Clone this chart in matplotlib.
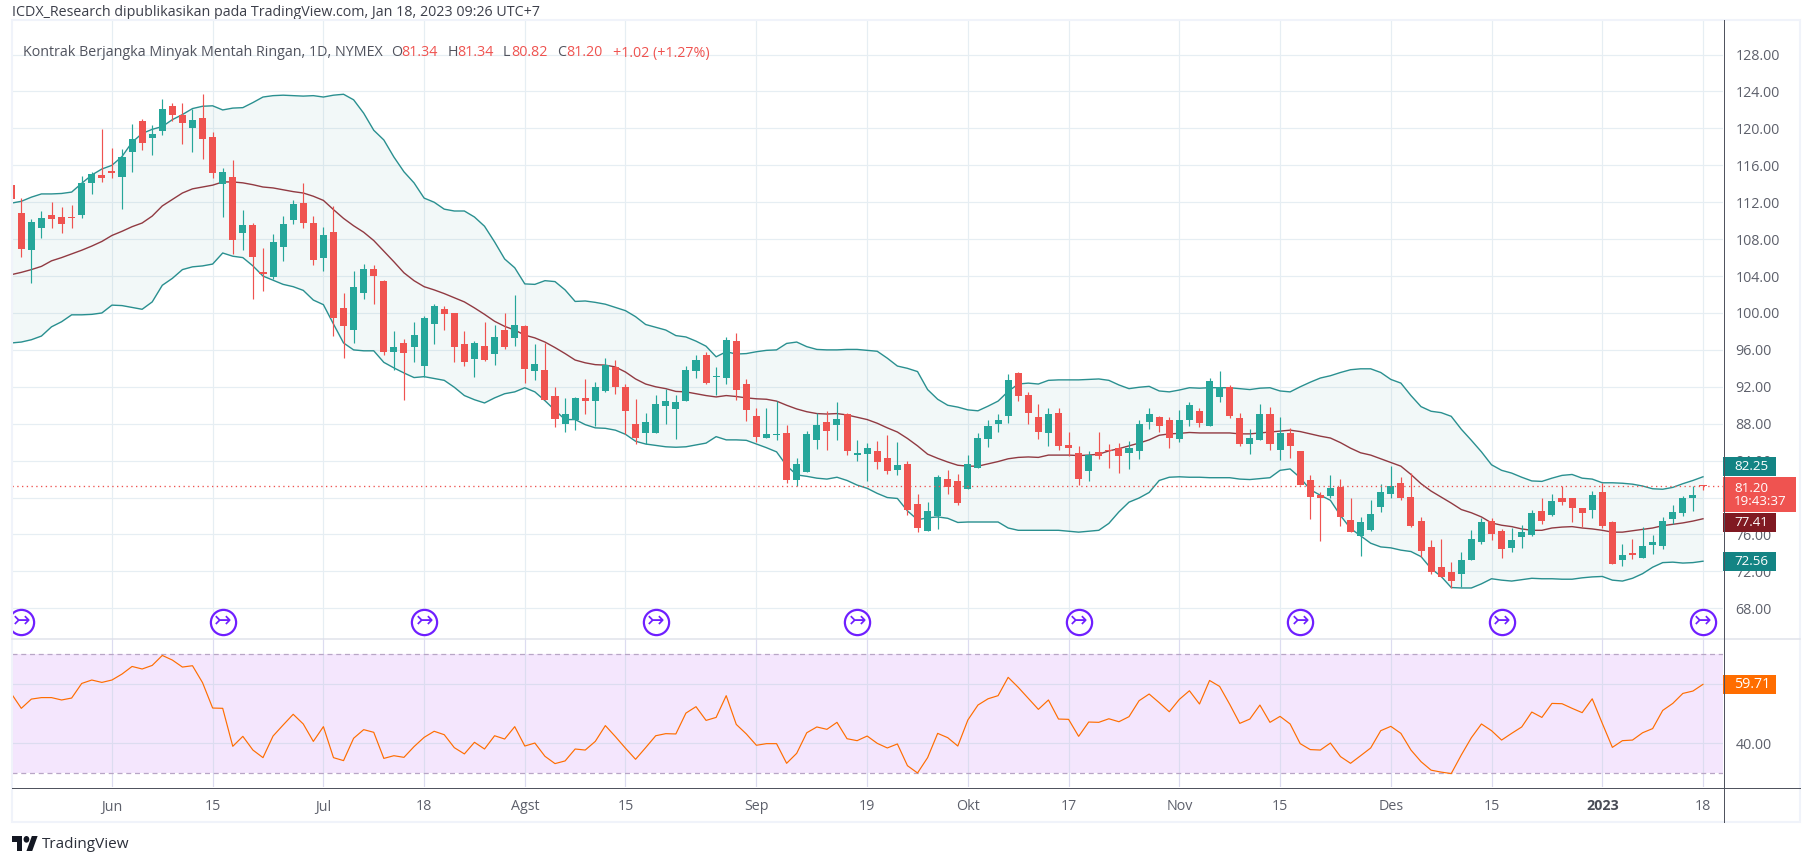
#!/usr/bin/env python
"""Light crude oil daily candles with Bollinger bands and RSI."""
import matplotlib
matplotlib.use('Agg')
import matplotlib.pyplot as plt
from matplotlib.lines import Line2D
from matplotlib.patches import Circle, Polygon, Rectangle

W, H = 1813, 866

# one entry per daily bar
opens = [
    113.85, 110.8, 106.8, 109.2, 110.6, 110.4, 110.4, 110.6, 114.05, 114.95,
    115.35, 114.7, 117.4, 120.8, 118.95, 119.7, 122.4, 121.45, 120.05, 121.1,
    119.05, 113.95, 114.7, 108.65, 109.5, 104.4, 103.9, 107.15, 110.05, 111.9,
    109.8, 106, 108.8, 100.5, 98.2, 102.2, 104.8, 103.5, 95.8, 96.7,
    96.35, 94.3, 98.85, 100.4, 100.05, 96.6, 95.05, 96.45, 95.6, 98.2,
    97.25, 98.55, 93.75, 93.85, 91.05, 88, 88.45, 90.8, 90.5, 91.5,
    94.2, 92, 88, 87, 87, 89.95, 89.6, 90.5, 93.75, 95.4,
    93.05, 92.9, 97, 92.35, 88.85, 86.45, 86.8, 87, 81.9, 82.8,
    86.25, 88.2, 87.9, 89, 84.65, 84.75, 85.05, 84.3, 82.95, 83.6,
    79.3, 76.35, 78, 82, 81.75, 80.9, 83.15, 86.3, 87.95, 88.8,
    93.45, 91.15, 88.7, 86.95, 89.2, 85.65, 84.8, 82.85, 84.9, 85.1,
    85.35, 84.8, 85, 88.15, 88.7, 88.35, 86.3, 88.45, 89.35, 87.8,
    90.85, 91.95, 88.6, 85.75, 86.2, 89, 85.1, 86.95, 85, 81.9,
    80.25, 80.15, 81.1, 77.55, 75.8, 76.45, 78.95, 80.35, 81.55, 80.05,
    77.45, 74.65, 72.45, 71.95, 71.7, 73.2, 75.15, 77.45, 76.35, 74.5,
    75.7, 75.95, 78.5, 78.1, 79.95, 79.95, 78.85, 78.65, 80.6, 77.35,
    73.2, 74, 73.45, 74.85, 74.75, 77.65, 78.3, 80, 81.34,
]
highs = [
    113.85, 112.45, 110.15, 111.05, 112.05, 111.5, 111.7, 114.8, 115.25, 119.9,
    117.85, 117.75, 120.45, 121, 120.35, 123.15, 122.75, 122.75, 122.1, 123.7,
    119.6, 115.7, 116.55, 111.15, 109.75, 107.05, 108.55, 110.5, 112.2, 114.05,
    110.55, 109.35, 111.55, 102.2, 104.6, 105.35, 105.15, 103.6, 98.1, 97.15,
    99.05, 99.7, 101, 100.8, 100.05, 98, 97, 99.05, 98.65, 99.95,
    102, 98.75, 96.6, 96.8, 92, 90.8, 90.9, 92.8, 92.55, 95.15,
    94.95, 92.25, 90.7, 89.2, 91.15, 91.8, 91.15, 94.3, 95.5, 95.8,
    94.1, 97.45, 97.8, 92.8, 89.75, 89.75, 90.5, 87.9, 84.3, 87.25,
    89.2, 89.4, 90.3, 89.2, 86.25, 85.9, 86.15, 86.8, 86, 83.95,
    80.35, 79.5, 82.4, 82.95, 82.6, 84.6, 86.95, 88.45, 89.1, 93.35,
    93.65, 91.4, 90.1, 89.65, 89.75, 87.15, 85.55, 85, 87.15, 85.85,
    85.95, 86.1, 88.45, 89.75, 88.8, 88.7, 89.45, 90.3, 89.65, 92.9,
    93.75, 92.15, 89.2, 87.4, 90.1, 89.85, 88.7, 87.5, 85, 82.4,
    80.6, 82.4, 82, 79.95, 77.9, 79.7, 81.45, 83.4, 82.2, 82.65,
    77.9, 75.4, 75.5, 73, 74.1, 76.45, 77.75, 77.75, 76.6, 76.7,
    77, 78.65, 79.95, 80.35, 81.2, 79.95, 78.85, 80.7, 81.6, 77.45,
    74.95, 75.5, 76.8, 75.95, 77.85, 79.15, 80.15, 81.2, 81.34,
]
lows = [
    112.37, 106.07, 103.25, 108.1, 109.2, 108.65, 109.2, 110.3, 112.9, 114.2,
    114.6, 111.25, 115.25, 117.65, 117.1, 119.25, 120.8, 118.3, 117.45, 116.65,
    114.6, 110.4, 106.4, 106.8, 101.5, 102.4, 103.7, 105.6, 109.65, 109.25,
    105.15, 104.6, 97.55, 95.15, 96.7, 101.55, 101, 95.4, 93.85, 90.6,
    94.65, 93.1, 96.6, 98.2, 94.65, 94.3, 93.1, 94.85, 94.4, 96.15,
    96.45, 92.45, 92.7, 90.6, 87.65, 87.15, 87.35, 89.1, 87.8, 91.4,
    91.25, 86.9, 85.8, 85.8, 87, 88, 86.35, 90.45, 92.9, 92.35,
    91.15, 92.35, 90.6, 88.3, 86.05, 86.45, 86.25, 81.55, 81.2, 82.8,
    85.3, 85.15, 86.25, 84.6, 84, 81.8, 83.1, 82.5, 82.4, 78.1,
    76.25, 76.35, 76.6, 80.35, 79.2, 80.9, 83.15, 85.45, 87.05, 88.05,
    90.5, 87.95, 86.3, 85.55, 85.2, 84.55, 81.35, 81.75, 84.15, 83.15,
    82.65, 83.05, 84.15, 87.4, 87.05, 85.35, 86, 87.7, 87.6, 87.8,
    90.4, 88.6, 85.55, 84.7, 86.2, 85.1, 84.05, 84.25, 81.35, 77.65,
    75.3, 79.95, 76.9, 76.25, 73.65, 76.35, 78.4, 79.95, 79.7, 76.8,
    73.55, 71.7, 71.4, 70.2, 70.3, 73.2, 74.95, 75.4, 73.45, 74.1,
    74.5, 75.8, 77.1, 78, 79.15, 77.35, 76.8, 77.75, 76.7, 72.8,
    72.6, 73.35, 73.45, 73.85, 74.4, 77.1, 78, 78.5, 80.82,
]
closes = [
    112.37, 106.96, 109.85, 110.3, 110.2, 109.65, 110.3, 114.05, 115.05, 114.6,
    115.15, 116.9, 118.85, 118.4, 119.4, 122.1, 121.45, 120.55, 120.9, 118.85,
    115.15, 115.25, 107.9, 109.5, 106.05, 104.2, 107.7, 109.65, 111.8, 109.7,
    105.7, 108.5, 99.5, 98.55, 102.85, 104.8, 104.05, 95.8, 96.35, 95.7,
    97.65, 99.5, 100.8, 99.85, 96.35, 94.65, 96.8, 94.95, 97.35, 96.35,
    98.75, 93.9, 94.5, 90.6, 88.55, 89.1, 90.8, 90.5, 92, 94.4,
    92, 89.4, 86.45, 88.2, 90.15, 90.5, 90.4, 93.85, 94.95, 92.45,
    93.15, 97.1, 91.6, 89.5, 86.6, 86.9, 86.9, 81.9, 83.65, 86.9,
    87.9, 87.25, 88.55, 85.05, 84.85, 85.4, 83.85, 82.9, 83.5, 78.65,
    76.7, 78.5, 82.2, 81.1, 79.4, 83.6, 86.5, 87.8, 88.45, 92.7,
    91.05, 89.2, 87.15, 89.1, 85.55, 85.35, 82, 84.6, 84.45, 85,
    84.45, 85.35, 87.95, 89.1, 87.8, 86.4, 88.35, 90, 88.05, 92.6,
    91.95, 88.8, 85.75, 86.5, 89, 85.75, 86.95, 85.55, 81.35, 80.05,
    79.95, 81, 77.85, 76.25, 77.35, 78.2, 80.6, 81.2, 79.95, 76.9,
    74.2, 71.95, 71.4, 70.95, 73.2, 75.5, 77.35, 76.05, 74.4, 75.4,
    76.25, 78.3, 77.45, 79.6, 79.5, 78.85, 78.3, 80.25, 76.9, 72.8,
    73.75, 73.75, 74.75, 75.15, 77.45, 78.4, 79.95, 80.25, 81.2,
]

bb_upper = [
    111.9, 112.1, 112.55, 112.9, 112.9, 112.95, 113.1, 114.05, 114.95, 115.6,
    116, 116.95, 118.5, 119.45, 119.9, 120.2, 120.95, 121.5, 122.15, 122.4,
    122.45, 122, 122.2, 122.25, 122.8, 123.4, 123.55, 123.6, 123.55, 123.5,
    123.55, 123.4, 123.6, 123.7, 123.1, 121.65, 119.8, 118.75, 116.9, 115.3,
    114.1, 112.45, 112, 111.25, 111.05, 111.05, 110.4, 109.4, 107.7, 105.85,
    104.9, 103.15, 103.1, 103.5, 103.4, 102.5, 101.25, 101.3, 101.15, 100.95,
    100.6, 100.25, 99.6, 98.75, 98.45, 98.15, 97.55, 97.4, 96.95, 96.4,
    95.25, 95.8, 95.55, 95.6, 95.8, 95.95, 96, 96.7, 96.85, 96.35,
    96.05, 96, 96, 96.05, 96.05, 95.95, 95.85, 95.1, 94.25, 94,
    93.65, 91.7, 90.65, 90, 89.8, 89.5, 89.4, 89.9, 90.45, 91.5,
    92.3, 92.4, 92.3, 92.7, 92.75, 92.75, 92.75, 92.8, 92.85, 92.7,
    92.2, 91.8, 91.95, 92.05, 91.55, 91.45, 91.65, 91.9, 91.85, 91.9,
    91.9, 91.9, 91.8, 91.7, 91.85, 91.9, 91.55, 91.45, 92, 92.5,
    92.95, 93.2, 93.55, 93.85, 93.95, 93.95, 93.55, 92.8, 92.4, 91.05,
    89.85, 89.35, 89.2, 88.8, 87.4, 86.2, 84.95, 83.55, 82.95, 82.65,
    82.2, 81.8, 81.75, 82.1, 82.4, 82.5, 82.1, 82, 81.6, 81.6,
    81.55, 81.45, 81.25, 80.95, 80.9, 81.1, 81.5, 81.85, 82.25,
]
bb_basis = [
    104.15, 104.4, 104.7, 105.05, 105.65, 106, 106.4, 106.8, 107.25, 107.75,
    108.4, 108.85, 109.35, 109.75, 110.5, 111.6, 112.3, 113, 113.45, 113.65,
    113.85, 114.2, 114.2, 114.1, 113.9, 113.65, 113.55, 113.35, 113.15, 113,
    112.65, 112.2, 111.2, 110.25, 109.45, 108.75, 107.85, 106.7, 105.55, 104.35,
    103.5, 102.85, 102.5, 102.1, 101.65, 101.2, 100.55, 99.85, 99.1, 98.55,
    98.15, 97.6, 97.3, 96.85, 96.25, 95.6, 94.9, 94.6, 94.4, 94.35,
    94.15, 93.6, 92.85, 92.3, 92, 91.8, 91.5, 91.45, 91.25, 91.05,
    90.9, 91.05, 90.95, 90.8, 90.7, 90.65, 90.45, 90, 89.6, 89.3,
    89.1, 89.05, 89.1, 88.95, 88.7, 88.45, 88.05, 87.55, 87.1, 86.4,
    85.6, 84.7, 84.25, 83.85, 83.5, 83.4, 83.4, 83.65, 83.9, 84.2,
    84.35, 84.4, 84.35, 84.6, 84.6, 84.6, 84.55, 84.6, 84.7, 85.05,
    85.3, 85.6, 85.9, 86.25, 86.75, 86.9, 86.95, 87.05, 87, 87,
    87, 87, 86.9, 86.9, 87, 87.1, 87.2, 87.3, 87.15, 86.9,
    86.65, 86.45, 85.95, 85.35, 84.85, 84.6, 84.2, 83.8, 83.4, 82.5,
    81.5, 80.7, 80.05, 79.4, 78.7, 78.35, 77.9, 77.25, 77, 76.85,
    76.6, 76.45, 76.45, 76.7, 76.8, 76.85, 76.7, 76.6, 76.45, 76.25,
    76.25, 76.4, 76.55, 76.7, 76.95, 77.1, 77.25, 77.45, 77.7,
]
bb_lower = [
    96.75, 96.85, 97.1, 97.5, 98.5, 99.05, 99.8, 99.8, 99.85, 100,
    100.85, 100.8, 100.6, 100.4, 101.2, 103, 103.75, 104.7, 105, 105.1,
    105.3, 106.5, 106.15, 106, 105.1, 104, 103.55, 103.1, 102.85, 102.45,
    101.4, 100.9, 98.8, 96.75, 96, 95.9, 95.9, 94.65, 94.05, 93.5,
    93, 93.1, 92.9, 92.7, 91.95, 91.05, 90.6, 90.25, 90.8, 91.25,
    91.45, 91.9, 91.45, 90.5, 89.45, 88.45, 88.45, 87.9, 87.55, 87.5,
    87.3, 86.85, 86.1, 85.8, 85.65, 85.5, 85.45, 85.5, 85.7, 85.9,
    86.6, 86.25, 86.25, 86.2, 85.8, 85.4, 84.95, 83.45, 82.45, 82.3,
    82.1, 82, 82.2, 81.85, 81.35, 81, 80.45, 80, 79.9, 78.55,
    77.6, 77.8, 77.9, 77.75, 77.3, 77.35, 77.35, 77.35, 77.35, 76.7,
    76.45, 76.45, 76.45, 76.45, 76.45, 76.35, 76.25, 76.35, 76.45, 77.2,
    78.45, 79.5, 79.95, 80.55, 81.85, 82.2, 82.25, 82.2, 82.2, 82.15,
    82.15, 82.15, 82, 81.95, 82.05, 82.15, 82.95, 83.1, 82.15, 80.85,
    80.25, 79.7, 78.05, 76.65, 75.85, 75.05, 74.65, 74.55, 74.3, 74.15,
    73.6, 72.3, 71.45, 70.25, 70.2, 70.2, 70.65, 71.2, 71.05, 70.95,
    71.1, 71.25, 71.2, 71.2, 71.15, 71.15, 71.3, 71.4, 71.45, 71.05,
    70.95, 71.25, 71.75, 72.45, 72.95, 73, 72.9, 72.95, 73.1,
]

rsi = [
    56.8, 51.8, 54.9, 55.4, 55.4, 54.6, 55.25, 60.15, 61.3, 60.5,
    61.3, 63.3, 65.85, 65, 66.2, 69.55, 68, 65.65, 66.1, 60.4,
    51.9, 51.8, 39.05, 42.4, 37.8, 35.25, 42.5, 46.2, 49.8, 46.55,
    40.7, 45.65, 35.25, 34.25, 41.75, 44.65, 43.75, 35, 35.9, 35.35,
    38.95, 42.05, 44.1, 42.95, 38.6, 36.5, 40.4, 38.15, 42.6, 41.5,
    45.65, 39.15, 40.15, 35.7, 33.25, 34.15, 38.15, 37.8, 40.7, 46,
    42.3, 38.4, 34.7, 38.6, 42.6, 43.3, 43.2, 50.2, 52.35, 47.75,
    48.75, 56.05, 46.4, 43.2, 39.4, 39.95, 39.95, 33.35, 36.7, 43.6,
    45.55, 44.75, 47.1, 41.6, 40.95, 42.5, 40.05, 38.5, 39.85,
    32.55, 30.1, 35.25, 43.4, 41.95, 39.15, 47.9, 52.9, 55, 56.05,
    62.2, 58.85, 55.15, 51.45, 54.6, 48.2, 48.1, 42.4, 47.2, 47.1,
    48.3, 47.3, 49, 54.35, 56.6, 53.7, 50.65, 54.8, 57.7, 53.25,
    61.15, 59.15, 53.15, 46.75, 48.2, 52.9, 47.1, 49.1, 46.55, 39.95,
    37.95, 37.8, 40.15, 35.6, 33.35, 35.9, 38.5, 44.3, 45.75, 43.4,
    37.8, 33.9, 31.05, 30.4, 29.9, 36.15, 41.95, 46.55, 44.3, 41.15,
    43.4, 45.55, 50.55, 48.75, 53.45, 53.35, 51.8, 50.35, 55, 46.75,
    38.7, 40.95, 41.15, 43.6, 45, 51.1, 53.45, 56.8, 57.6, 59.85,
]

date_ticks = [10, 20, 31, 41, 51, 61, 74, 85, 95, 105, 116, 126, 137, 147, 158, 168]
date_labels = ['Jun', '15', 'Jul', '18', 'Agst', '15', 'Sep', '19', 'Okt', '17',
               'Nov', '15', 'Des', '15', '2023', '18']
price_ticks = list(range(68, 129, 4))
rsi_ticks = [40, 60]
split_bars = [1, 21, 41, 64, 84, 106, 128, 148, 168]

last_price = 81.20
upper_label, basis_label, lower_label, rsi_label = '82.25', '77.41', '72.56', '59.71'
countdown = '19:43:37'

UP = '#26a69a'
DOWN = '#ef5350'
BAND = '#138484'
BASIS = '#801922'
GRID = '#e6eef3'
TEXT = '#50535e'

plt.rcParams['font.family'] = ['Open Sans', 'DejaVu Sans']


def frect(left, top, right, bottom):
    # pixel box to figure fractions
    return [left / W, 1 - bottom / H, (right - left) / W, (bottom - top) / H]


def fline(fig, x0, y0, x1, y1, color, width=1.0):
    fig.add_artist(Line2D([x0 / W, x1 / W], [1 - y0 / H, 1 - y1 / H], color=color,
                          lw=width * 0.72, transform=fig.transFigure, zorder=6))


FRAME_TOP = 20

fig = plt.figure(figsize=(W / 100, H / 100), dpi=100, facecolor='white')

ax = fig.add_axes(frect(12, FRAME_TOP, 1723, 638))
ax_rsi = fig.add_axes(frect(12, 638, 1723, 787), sharex=ax)

bars = list(range(len(closes)))
ax.set_xlim((12 - 11.23) / 10.07, (1723 - 11.23) / 10.07)
ax.set_ylim(64.78, 124 + (91.5 - FRAME_TOP) / 9.229)
ax_rsi.set_ylim(25.4, 75.4)

# bollinger bands
ax.fill_between(bars, bb_lower, bb_upper, color=BAND, alpha=0.05, lw=0, zorder=1)
ax.plot(bars, bb_upper, color=BAND, lw=1.0, alpha=0.9, zorder=2)
ax.plot(bars, bb_lower, color=BAND, lw=1.0, alpha=0.9, zorder=2)
ax.plot(bars, bb_basis, color=BASIS, lw=1.0, alpha=0.85, zorder=2)

# candles
colors = [UP if c >= o else DOWN for o, c in zip(opens, closes)]
ax.vlines(bars, lows, highs, colors=colors, lw=0.85, zorder=3)
ax.bar(bars, [max(abs(c - o), 0.12) for o, c in zip(opens, closes)],
       bottom=[min(o, c) for o, c in zip(opens, closes)],
       width=0.7, color=colors, lw=0, zorder=3)

ax.axhline(last_price, color=DOWN, lw=0.95, ls=(0, (1, 2.6)), zorder=4)

# split markers along the bottom of the price pane
split_y = 66.55
ax.scatter(split_bars, [split_y] * len(split_bars), s=330, facecolor='white',
           edgecolor='#6f1fff', lw=1.6, zorder=5)
for b in split_bars:
    ax.text(b, split_y, '\u21a3', color='#6f1fff', fontsize=15,
            family='DejaVu Sans', ha='center', va='center', zorder=6, clip_on=True)

for a in (ax, ax_rsi):
    a.grid(True, color=GRID, lw=0.85)
    a.set_axisbelow(True)
    for s in a.spines.values():
        s.set_visible(False)
    a.yaxis.tick_right()
    a.tick_params(axis='both', length=0, labelsize=10.3, labelcolor='#5d606b')
    a.tick_params(axis='y', pad=9)

ax.set_yticks(price_ticks)
ax.set_yticklabels([f'{p:.2f}' for p in price_ticks])
ax.tick_params(axis='x', labelbottom=False)

# rsi pane
ax_rsi.axhspan(30, 70, color='#f4e6fd', lw=0, zorder=0.5)
ax_rsi.axhline(70, color='#b8a6c6', lw=0.9, ls=(0, (4, 3)), zorder=1.5)
ax_rsi.axhline(30, color='#b8a6c6', lw=0.9, ls=(0, (4, 3)), zorder=1.5)
ax_rsi.plot(bars, rsi, color='#ff6d00', lw=0.85, zorder=3)
ax_rsi.set_yticks(rsi_ticks)
ax_rsi.set_yticklabels(['40.00', '60.00'])
ax_rsi.grid(True, color='#dcdcf0', lw=0.85)
ax_rsi.set_xticks(date_ticks)
ax_rsi.set_xticklabels(date_labels)
ax_rsi.tick_params(axis='x', pad=9)
for lab in ax_rsi.get_xticklabels():
    if lab.get_text() == '2023':
        lab.set_fontweight('bold')
        lab.set_color('#4a4d57')


def value_box(axis, value, text, color, height, width=53, text_color='white', size=9.6):
    # label glued to the price scale, in axes x and data y
    tr = axis.get_yaxis_transform()
    full_w = 1711
    axis.add_patch(Rectangle((1.0, value - height / 2), width / full_w, height, transform=tr,
                             facecolor=color, edgecolor='none', clip_on=False, zorder=7))
    axis.text(1 + 11 / full_w, value, text, transform=tr, color=text_color, fontsize=size,
              va='center', ha='left', zorder=8, clip_on=False)


# the boxes get pushed apart by the chart so they sit off their lines
value_box(ax, 83.38, upper_label, BAND, 2.06)
tr = ax.get_yaxis_transform()
ax.add_patch(Rectangle((1.0, 78.4), 73 / 1711, 3.8, transform=tr, facecolor=DOWN,
                       edgecolor='none', clip_on=False, zorder=7))
ax.text(1 + 11 / 1711, 80.28, f'{last_price:.2f}\n{countdown}', transform=tr, color='white',
        fontsize=9.6, va='center', linespacing=1.0, zorder=8, clip_on=False)
value_box(ax, 77.3, basis_label, BASIS, 2.06)
value_box(ax, 73.1, lower_label, BAND, 2.06)
value_box(ax_rsi, 59.71, rsi_label, '#ff6d00', 6.3, size=10.3)

# frame and pane separators
frame = '#f0f3fa'
fig.add_artist(Rectangle((12 / W, 1 - 822 / H), 1788 / W, (822 - FRAME_TOP) / H, fill=False,
                         edgecolor=frame, lw=1.5, transform=fig.transFigure, zorder=5))
fline(fig, 12, 638.5, 1800, 638.5, '#e0e3eb', 1.5)
fline(fig, 12, 787.5, 1800, 787.5, '#50535e', 1)
fline(fig, 1723.5, FRAME_TOP, 1723.5, 822, '#50535e', 1)

# header texts
fig.text(12 / W, 1 - 12 / H, 'ICDX_Research dipublikasikan pada TradingView.com, Jan 18, 2023 09:26 UTC+7',
         fontsize=10.3, color='#3c3f4a', va='center')

pieces = [
    ('Kontrak Berjangka Minyak Mentah Ringan, 1D, NYMEX', TEXT, 23),
    ('O', TEXT, 391), ('81.34', DOWN, 401),
    ('H', TEXT, 448), ('81.34', DOWN, 457),
    ('L', TEXT, 503), ('80.82', DOWN, 511),
    ('C', TEXT, 557), ('81.20', DOWN, 566),
    ('+1.02 (+1.27%)', DOWN, 613),
]
for s, c, x in pieces:
    fig.text(x / W, 1 - 53 / H, s, fontsize=10.3, color=c, va='center')

# TradingView mark
logo = fig.add_axes(frect(12, 836, 38, 851))
logo.set_xlim(0, 36)
logo.set_ylim(22, 4)
logo.axis('off')
logo.add_patch(Polygon([(0, 4), (14, 4), (14, 22), (7, 22), (7, 11), (0, 11)], color='#131722', lw=0))
logo.add_patch(Polygon([(27.5, 4), (35.5, 4), (28, 22), (20, 22)], color='#131722', lw=0))
logo.add_patch(Circle((20, 8), 4, color='#131722', lw=0))
fig.text(42 / W, 1 - 845 / H, 'TradingView', fontsize=11, color='#2a2e39', va='center')

fig.savefig('out.png', dpi=100, facecolor='white')
